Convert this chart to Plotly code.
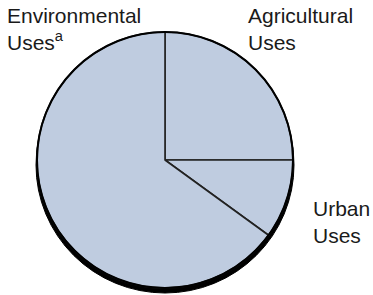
import plotly.graph_objects as go

# Data, clockwise from 12 o'clock
categories = ["Agricultural<br>Uses", "Urban<br>Uses", "Environmental<br>Uses<sup>a</sup>"]
shares = [25, 10, 65]

# Styles / layout
W, H = 373, 295
cx, cy, r = 165, 160, 128          # pie centre and radius in px
fill = "#bfcce0"
font = dict(family="Liberation Sans, Arial, Helvetica, sans-serif", size=21, color="#1a1a1a")
# label anchor positions (px from top-left) for each category
label_pos = [(246, 2), (311, 195), (5, 2)]

fig = go.Figure()
fig.add_trace(go.Pie(
    labels=categories,
    values=shares,
    sort=False,
    direction="clockwise",
    rotation=0,
    textinfo="none",
    hoverinfo="label+percent",
    marker=dict(colors=[fill] * len(shares), line=dict(color="#222222", width=1.6)),
    domain=dict(x=[(cx - r) / W, (cx + r) / W], y=[1 - (cy + r) / H, 1 - (cy - r) / H]),
    showlegend=False,
))

# drop shadow / rim below the pie
off = 5
fig.add_shape(type="circle", xref="paper", yref="paper", layer="below",
              x0=(cx - r - 1) / W, x1=(cx + r + 1) / W,
              y0=1 - (cy + r + off) / H, y1=1 - (cy - r + off) / H,
              fillcolor="#000000", line=dict(color="#000000", width=1))
# outer rim
fig.add_shape(type="circle", xref="paper", yref="paper", layer="above",
              x0=(cx - r) / W, x1=(cx + r) / W,
              y0=1 - (cy + r) / H, y1=1 - (cy - r) / H,
              line=dict(color="#000000", width=2))

for lab, (px, py) in zip(categories, label_pos):
    fig.add_annotation(text=lab, xref="paper", yref="paper",
                       x=px / W, y=1 - py / H, xanchor="left", yanchor="top",
                       showarrow=False, align="left", font=font)

fig.update_layout(width=W, height=H, margin=dict(l=0, r=0, t=0, b=0),
                  paper_bgcolor="white", plot_bgcolor="white")
fig.write_html("out.html", config={"displayModeBar": False},
               post_script="document.body.style.margin='0';document.body.style.overflow='hidden';")
